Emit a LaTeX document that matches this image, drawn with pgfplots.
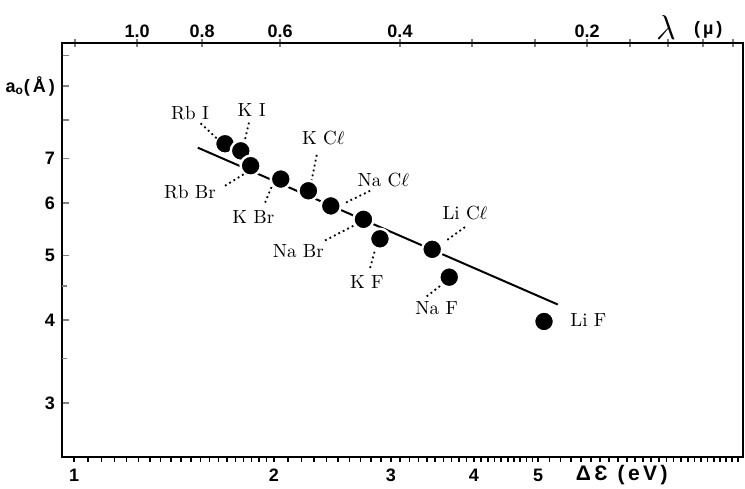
\documentclass[border=0pt]{standalone}
\usepackage{fontspec}
\setsansfont{Liberation Sans}
\usepackage{pgfplots}
\pgfplotsset{compat=1.18}
\begin{document}
\begin{tikzpicture}
\useasboundingbox (0,0) rectangle (372.5pt,244pt);
\begin{axis}[
  at={(31pt,15.5pt)}, anchor=south west,
  scale only axis, width=340.5pt, height=207pt,
  xmode=log, ymode=log,
  xmin=0.959, xmax=10.175, ymin=2.487, ymax=10.45,
  clip mode=individual,
  axis line style={line width=1pt},
  xtick=\empty, ytick pos=left,
  ytick={3,4,5,6,7,8,9,10},
  yticklabels={3,4,5,6,7,,{a\textsubscript{o}(\,Å\,)},},
  extra y ticks={3.5,4.5},
  extra y tick labels={},
  extra y tick style={major tick length=2.5pt, ytick pos=left, tick align=inside},
  y tick style={line width=0.8pt},
  tick align=inside,
  major tick length=3.5pt,
  ticklabel style={font=\sffamily\bfseries\small},
]
% fitted line
\addplot[black, line width=1pt] coordinates {(1.536,7.27) (5.353,4.22)};
% data points
\addplot[only marks, mark=*, mark size=5pt, mark options={draw=white, line width=1.2pt, fill=black}] coordinates {
 (1.688,7.37) (1.783,7.19) (1.845,6.83) (2.048,6.52) (2.254,6.26) (2.436,5.94)
 (2.728,5.67) (2.889,5.30) (3.463,5.11) (3.674,4.64) (5.103,3.98)};
% leaders
\tikzset{lead/.style={line width=0.9pt, dash pattern=on 0.9pt off 1.6pt}}
\draw[lead] (axis cs:1.551,7.91) -- (axis cs:1.640,7.51);
\draw[lead] (axis cs:1.834,7.93) -- (axis cs:1.810,7.49);
\draw[lead] (axis cs:2.320,7.09) -- (axis cs:2.280,6.50);
\draw[lead] (axis cs:2.792,6.26) -- (axis cs:2.559,6.00);
\draw[lead] (axis cs:1.688,6.37) -- (axis cs:1.810,6.65);
\draw[lead] (axis cs:1.940,6.01) -- (axis cs:1.985,6.35);
\draw[lead] (axis cs:2.388,5.27) -- (axis cs:2.650,5.56);
\draw[lead] (axis cs:2.792,4.79) -- (axis cs:2.840,5.10);
\draw[lead] (axis cs:3.880,5.52) -- (axis cs:3.620,5.25);
\draw[lead] (axis cs:3.398,4.34) -- (axis cs:3.579,4.52);
% labels
\tikzset{lab/.style={font=\fontsize{9.5}{11}\selectfont, inner sep=0pt}}
\node[lab] at (axis cs:1.495,8.20) {Rb I};
\node[lab] at (axis cs:1.852,8.29) {K I};
\node[lab] at (axis cs:2.374,7.51) {K C$\ell$};
\node[lab] at (axis cs:2.923,6.50) {Na C$\ell$};
\node[lab] at (axis cs:1.495,6.24) {Rb Br};
\node[lab] at (axis cs:1.862,5.72) {K Br};
\node[lab] at (axis cs:2.177,5.07) {Na Br};
\node[lab] at (axis cs:2.760,4.57) {K F};
\node[lab] at (axis cs:3.880,5.79) {Li C$\ell$};
\node[lab] at (axis cs:3.518,4.17) {Na F};
\node[lab] at (axis cs:5.951,4.00) {Li F};
% axis titles
\node[font=\sffamily\bfseries\fontsize{10.5}{12}\selectfont, yshift=-9pt] at (rel axis cs:0.822,0) {Δ\,Ɛ\hspace{5pt}(\,e\,V\,)};
\node[yshift=7.5pt] at (rel axis cs:0.887,1) {\fontsize{16}{16}\selectfont$\lambda$};
\node[font=\sffamily\bfseries\small, yshift=6.5pt] at (rel axis cs:0.949,1) {(\,µ\,)};
\end{axis}
% bottom axis ticks
\begin{axis}[
  at={(31pt,15.5pt)}, anchor=south west,
  scale only axis, width=340.5pt, height=207pt,
  xmode=log, ymode=log,
  xmin=0.959, xmax=10.175, ymin=2.487, ymax=10.45,
  axis x line*=bottom, axis y line=none,
  axis line style={line width=1pt},
  xtick={1,1.05,1.1,1.15,1.2,1.25,1.3,1.35,1.4,1.45,1.5,1.55,1.6,1.65,1.7,1.75,1.8,1.85,1.9,1.95,2,2.1,2.2,2.3,2.4,2.5,2.6,2.7,2.8,2.9,3,3.1,3.2,3.3,3.4,3.5,3.6,3.7,3.8,3.9,4,4.1,4.2,4.3,4.4,4.5,4.6,4.7,4.8,4.9,5,5.2,5.4,5.6,5.8,6,6.2,6.4,6.6,6.8,7,7.2,7.4,7.6,7.8,8,8.2,8.4,8.6,8.8,9,9.2,9.4,9.6,9.8,10},
  xticklabels={1,,,,,,,,,,,,,,,,,,,,2,,,,,,,,,,3,,,,,,,,,,4,,,,,,,,,,5,,,,,,,,,,,,,,,,,,,,,,,,,},
  minor xtick={},
  x tick style={line width=0.8pt, black, yshift=-1.3pt},
  tick align=center, major tick length=2.6pt,
  ticklabel style={font=\sffamily\bfseries\small},
  xticklabel style={yshift=-1pt},
]
\end{axis}
% top axis (wavelength)
\begin{axis}[
  at={(31pt,15.5pt)}, anchor=south west,
  scale only axis, width=340.5pt, height=207pt,
  xmode=log, ymode=log,
  xmin=0.959, xmax=10.175, ymin=2.487, ymax=10.45,
  axis x line*=top, axis y line=none,
  axis line style={line width=1pt},
  xtick={1.003,1.244,1.559,2.043,3.097,3.976,4.947,5.925,6.877,7.846,8.857,9.829},
  xticklabels={,1.0,0.8,0.6,0.4,,,0.2,,,,},
  minor xtick={},
  x tick style={line width=0.8pt},
  tick align=center, major tick length=4pt,
  ticklabel style={font=\sffamily\bfseries\small},
  xticklabel style={yshift=-3pt},
]
\end{axis}
\end{tikzpicture}
\end{document}
